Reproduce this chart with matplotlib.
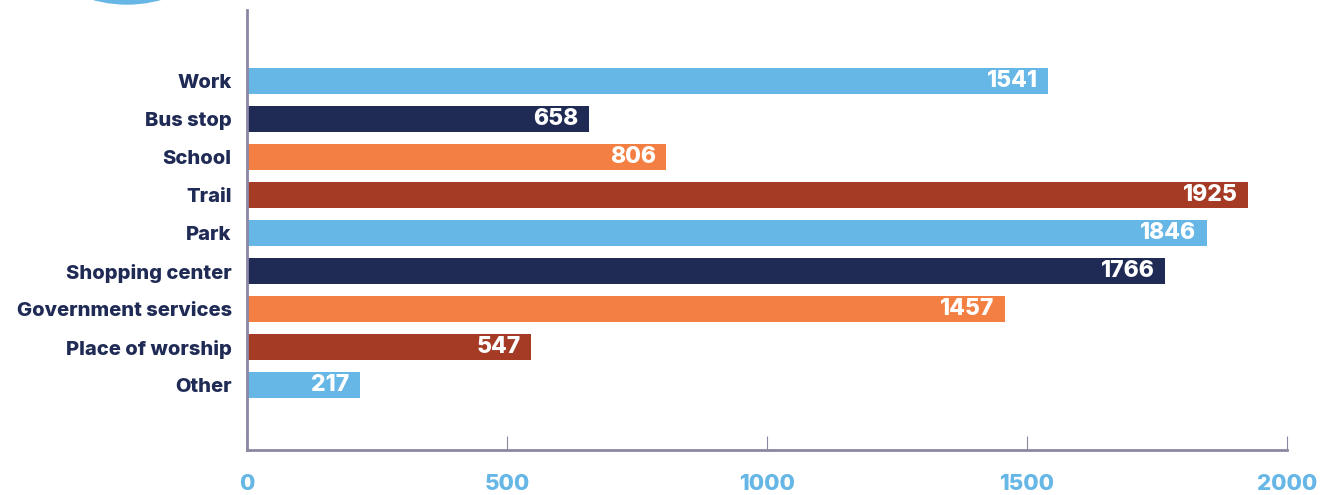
import matplotlib.pyplot as plt
from matplotlib.patches import Ellipse

# data
categories = ["Work", "Bus stop", "School", "Trail", "Park", "Shopping center",
              "Government services", "Place of worship", "Other"]
values = [1541, 658, 806, 1925, 1846, 1766, 1457, 547, 217]
colors = ["#66b6e6", "#1f2a55", "#f47f42", "#a53b24"] * 3
ticks = [0, 500, 1000, 1500, 2000]

navy = "#1f2a55"
blue = "#66b6e6"
axis_col = "#8a87a3"

plt.rcParams['font.family'] = ['Inter', 'DejaVu Sans']

fig = plt.figure(figsize=(13.3, 4.95), dpi=100)
ax = fig.add_axes([247 / 1330, 45 / 495, 1040 / 1330, 440 / 495])

pos = list(range(len(categories)))
ax.barh(pos, values, height=0.7, color=colors[:len(values)], zorder=2)

for p, v in zip(pos, values):
    ax.text(v - 20, p, str(v), ha='right', va='center', color='white',
            fontsize=16.5, fontweight='heavy')

ax.set_xlim(0, 2000)
ax.set_ylim(9.71, -1.87)
ax.set_yticks(pos)
ax.set_yticklabels(categories, fontsize=14.5, fontweight='heavy', color=navy)
ax.set_xticks(ticks)
ax.set_xticklabels([str(t) for t in ticks], fontsize=16, fontweight='heavy', color=blue)

ax.tick_params(axis='y', length=0, pad=11)
ax.tick_params(axis='x', direction='in', length=10, width=0.8, color=axis_col, pad=17)

for s in ['top', 'right']:
    ax.spines[s].set_visible(False)
for s in ['left', 'bottom']:
    ax.spines[s].set_color(axis_col)
    ax.spines[s].set_linewidth(2)

# partial decorative circle at the top-left
circ = Ellipse((127 / 1330, 1 + 122 / 495), 2 * 126 / 1330, 2 * 126 / 495,
               transform=fig.transFigure, color=blue, clip_on=False)
fig.patches.append(circ)

fig.savefig("out.png", dpi=100)
